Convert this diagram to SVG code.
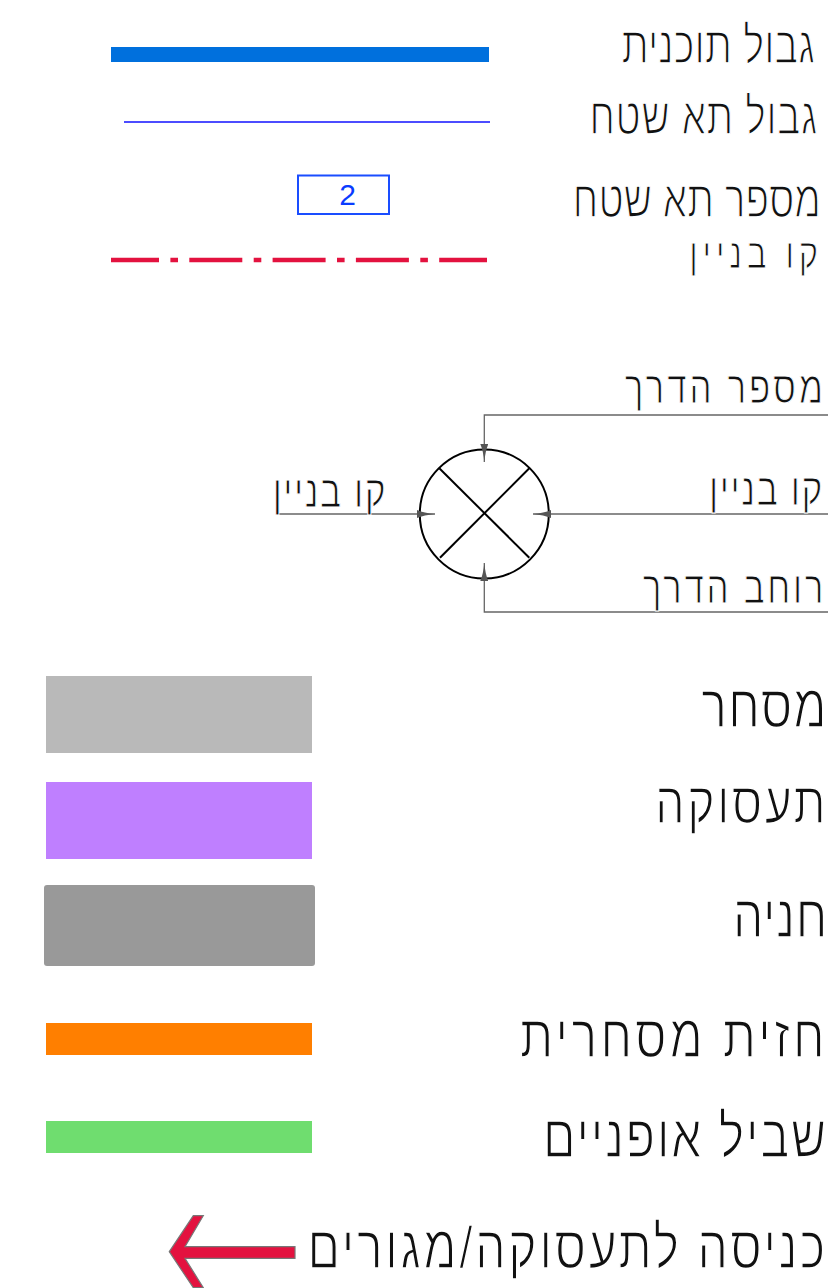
<svg xmlns="http://www.w3.org/2000/svg" width="828" height="1288" viewBox="0 0 828 1288">
<style>
.t{font-family:"Liberation Sans","DejaVu Sans",sans-serif;fill:#111;stroke:#fff;stroke-width:1.6;text-anchor:end}
.s{stroke-width:1.1}
.conn{fill:none;stroke:#666;stroke-width:1.3}
.sym{fill:none;stroke:#000;stroke-width:2}
</style>
<defs>
<marker id="ah" viewBox="0 -4 18 8" refX="18" refY="0" markerWidth="18" markerHeight="8" markerUnits="userSpaceOnUse" orient="auto">
<path d="M0,-4 Q7,-1 18,0 Q7,1 0,4 Z" fill="#555"/>
</marker>
</defs>
<rect width="828" height="1288" fill="#fff"/>

<g id="plan-boundary">
<rect x="111" y="47" width="378" height="15" fill="#0070dd"/>
<text class="t" transform="translate(815,63) scale(0.756,1)" font-size="52.2" letter-spacing="0.1">גבול תוכנית</text>
</g>
<g id="parcel-boundary">
<line x1="124" y1="122" x2="490" y2="122" stroke="#1010ff" stroke-width="1.5"/>
<text class="t" transform="translate(818,133.5) scale(0.753,1)" font-size="51.3" letter-spacing="0.9">גבול תא שטח</text>
</g>
<g id="parcel-number">
<rect x="298" y="175.5" width="91" height="38.5" fill="#fff" stroke="#1a4dff" stroke-width="2"/>
<text x="347.5" y="205" font-family="Liberation Sans, Arial, sans-serif" font-size="30" fill="#0a3cff" text-anchor="middle">2</text>
<text class="t" transform="translate(821,217) scale(0.75,1)" font-size="51.6" letter-spacing="0.1">מספר תא שטח</text>
</g>
<g id="building-line">
<line x1="111" y1="260" x2="487" y2="260" stroke="#e3123f" stroke-width="4.3" stroke-dasharray="53 11.4 7.6 11.3" stroke-dashoffset="5"/>
<text class="t s" transform="translate(823,268) scale(0.79,1)" font-size="41.4" letter-spacing="6.2">קו בניין</text>
</g>

<g id="road-symbol">
<circle class="sym" cx="484.3" cy="514" r="64.5"/>
<line class="sym" x1="439.3" y1="468.3" x2="529.3" y2="557.7"/>
<line class="sym" x1="529.3" y1="468.3" x2="440" y2="557.7"/>
</g>
<g id="connectors">
<path class="conn" d="M828,415 H484.3 V462" marker-end="url(#ah)"/>
<path class="conn" d="M828,514 H533" marker-end="url(#ah)"/>
<path class="conn" d="M279,514 H435" marker-end="url(#ah)"/>
<path class="conn" d="M828,612 H484.3 V563" marker-end="url(#ah)"/>
</g>
<g id="road-labels">
<text class="t s" transform="translate(826,403) scale(0.776,1)" font-size="45" letter-spacing="3.9">מספר הדרך</text>
<text class="t s" transform="translate(824,505) scale(0.786,1)" font-size="45" letter-spacing="2">קו בניין</text>
<text class="t s" transform="translate(826,603) scale(0.778,1)" font-size="45" letter-spacing="3.4">רוחב הדרך</text>
<text class="t s" transform="translate(387,507) scale(0.786,1)" font-size="45" letter-spacing="1.9">קו בניין</text>
</g>

<g id="commerce">
<rect x="46" y="676" width="266" height="77" fill="#b9b9b9"/>
<text class="t" transform="translate(828,727) scale(0.8,1)" font-size="60" letter-spacing="1.75">מסחר</text>
</g>
<g id="employment">
<rect x="46" y="782" width="266" height="77" fill="#bf7fff"/>
<text class="t" transform="translate(828,823) scale(0.8,1)" font-size="58" letter-spacing="3.2">תעסוקה</text>
</g>
<g id="parking">
<rect x="44" y="885" width="271" height="81" rx="3" fill="#999999"/>
<text class="t" transform="translate(828,937) scale(0.8,1)" font-size="60" letter-spacing="0.9">חניה</text>
</g>
<g id="commercial-front">
<rect x="46" y="1023" width="266" height="32" fill="#ff7f00"/>
<text class="t" transform="translate(828,1057) scale(0.8,1)" font-size="60" letter-spacing="4.2">חזית מסחרית</text>
</g>
<g id="bike-path">
<rect x="46" y="1121" width="266" height="32" fill="#6fdd6f"/>
<text class="t" transform="translate(828,1157) scale(0.8,1)" font-size="60" letter-spacing="2.4">שביל אופניים</text>
</g>
<g id="entrance">
<polygon points="169.3,1251.7 193.3,1215.7 203.3,1215.7 185,1246.7 295,1246.7 295,1258.3 185,1258.3 203.3,1287.7 193.3,1287.7" fill="#e3123f" stroke="#777" stroke-width="1.2"/>
<text class="t" transform="translate(828,1268) scale(0.8,1)" font-size="60" letter-spacing="3.4">כניסה לתעסוקה/מגורים</text>
</g>
</svg>
